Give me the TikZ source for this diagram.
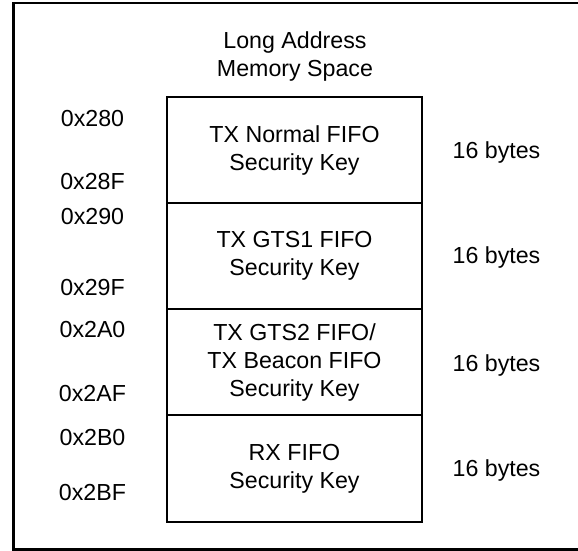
\documentclass[tikz,border=0pt]{standalone}
\usepackage{fontspec}
\setmainfont{Liberation Sans}
\begin{document}
\begin{tikzpicture}[x=1pt,y=-1pt,
  every node/.style={font=\fontsize{23.2}{28}\selectfont, inner sep=0pt, outer sep=0pt},
  mem/.style={draw, line width=1.2pt, minimum width=255pt, minimum height=106pt, align=center},
  addr/.style={anchor=base},
  size/.style={anchor=base},
  frame/.style={line width=2.4pt}]
\useasboundingbox (0,0) rectangle (578,550);
% outer frame (right side lies outside the picture)
\coordinate (ftr) at (578,3);
\coordinate (ftl) at (13.3,3);
\coordinate (fbl) at (13.3,549.5);
\coordinate (fbr) at (578,549.5);
\draw[frame] (ftr) -- (ftl) -- (fbl) -- (fbr);
% title
\node[align=center] (title) at (295,56) {Long Address\\Memory Space};
% memory blocks
\node[mem] (k1) at (294.5,150) {TX Normal FIFO\\Security Key};
\node[mem] (k2) at (294.5,256) {TX GTS1 FIFO\\Security Key};
\node[mem] (k3) at (294.5,362) {TX GTS2 FIFO/\\TX Beacon FIFO\\Security Key};
\node[mem, minimum height=107pt] (k4) at (294.5,468.5) {RX FIFO\\Security Key};
% addresses
\node[addr] (a1s) at (92.5,126) {0x280};
\node[addr] (a1e) at (92.5,189.3) {0x28F};
\node[addr] (a2s) at (92.5,224) {0x290};
\node[addr] (a2e) at (92.5,295) {0x29F};
\node[addr] (a3s) at (92.5,337) {0x2A0};
\node[addr] (a3e) at (92.5,401) {0x2AF};
\node[addr] (a4s) at (92.5,445) {0x2B0};
\node[addr] (a4e) at (92.5,500) {0x2BF};
% sizes
\node[size] (s1) at (496.5,158) {16 bytes};
\node[size] (s2) at (496.5,263) {16 bytes};
\node[size] (s3) at (496.5,371.7) {16 bytes};
\node[size] (s4) at (496.5,476.7) {16 bytes};
\end{tikzpicture}
\end{document}
